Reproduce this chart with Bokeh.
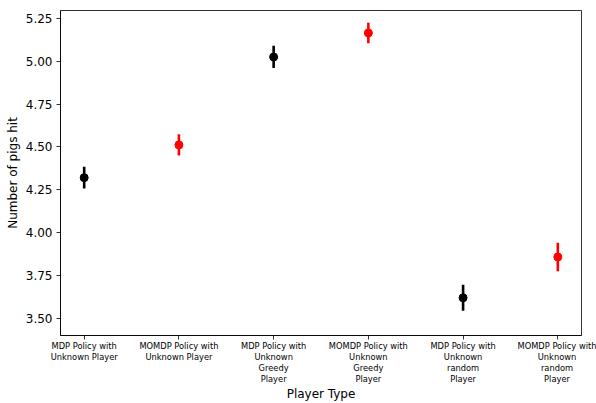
from bokeh.plotting import figure
from bokeh.models import ColumnDataSource, FixedTicker, Range1d, CustomJSTickFormatter
from bokeh.embed import file_html
from bokeh.resources import INLINE

categories = [
    "MDP Policy with\nUnknown Player",
    "MOMDP Policy with\nUnknown Player",
    "MDP Policy with\nUnknown\nGreedy\nPlayer",
    "MOMDP Policy with\nUnknown\nGreedy\nPlayer",
    "MDP Policy with\nUnknown\nrandom\nPlayer",
    "MOMDP Policy with\nUnknown\nrandom\nPlayer",
]
means = [4.321, 4.512, 5.025, 5.165, 3.620, 3.858]
errors = [0.064, 0.062, 0.065, 0.060, 0.076, 0.083]
point_colors = ["black", "red", "black", "red", "black", "red"]
y_ticks = [3.50, 3.75, 4.00, 4.25, 4.50, 4.75, 5.00, 5.25]

xs = list(range(len(categories)))
src = ColumnDataSource(dict(
    x=xs,
    y=means,
    lo=[m - e for m, e in zip(means, errors)],
    hi=[m + e for m, e in zip(means, errors)],
    c=point_colors,
))

p = figure(width=596, height=403, output_backend="svg", toolbar_location=None,
           x_range=Range1d(-0.25, 5.25), y_range=Range1d(3.40, 5.296),
           min_border_left=60, min_border_right=15, min_border_top=10, min_border_bottom=63)
p.background_fill_color = "white"
p.border_fill_color = "white"
p.outline_line_color = "black"
p.outline_line_width = 0.8
p.grid.visible = False

p.segment(x0="x", y0="lo", x1="x", y1="hi", source=src, line_color="c", line_width=2.6)
p.scatter(x="x", y="y", source=src, size=8, fill_color="c", line_color="c", line_width=1)

font = "DejaVu Sans"
p.xaxis.ticker = FixedTicker(ticks=xs)
p.xaxis.major_label_overrides = {i: lab for i, lab in zip(xs, categories)}
p.xaxis.major_label_text_font_size = "8.3px"
p.xaxis.major_label_text_font = font
p.xaxis.major_label_text_line_height = 1.1
p.xaxis.major_label_standoff = 1
p.xaxis.axis_label = "Player Type"
p.xaxis.axis_label_standoff = 0

p.yaxis.ticker = FixedTicker(ticks=y_ticks)
p.yaxis.formatter = CustomJSTickFormatter(code="return tick.toFixed(2);")
p.yaxis.major_label_text_font_size = "12px"
p.yaxis.major_label_text_font = font
p.yaxis.major_label_standoff = 4
p.yaxis.axis_label = "Number of pigs hit"
p.yaxis.axis_label_standoff = 3

for ax in (p.xaxis, p.yaxis):
    ax.axis_label_text_font = font
    ax.axis_label_text_font_size = "12px"
    ax.axis_label_text_font_style = "normal"
    ax.axis_label_text_color = "black"
    ax.major_label_text_color = "black"
    ax.axis_line_color = "black"
    ax.axis_line_width = 0.8
    ax.major_tick_line_color = "black"
    ax.major_tick_line_width = 0.8
    ax.major_tick_out = 4
    ax.major_tick_in = 0
    ax.minor_tick_line_color = None

open("out.html", "w").write(file_html(p, INLINE))
